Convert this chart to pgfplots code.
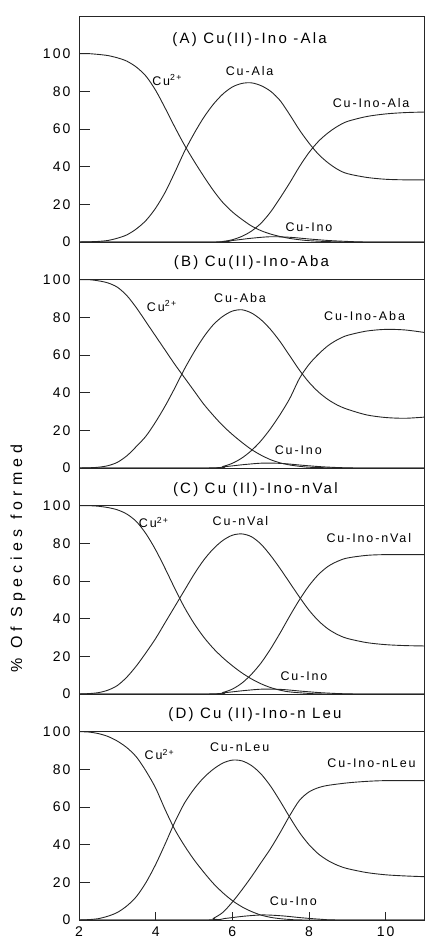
\documentclass[border=0pt]{standalone}
\usepackage{fontspec}
\setmainfont{Liberation Sans}[LetterSpace=15]
\newfontfamily\widefont{Liberation Sans}[LetterSpace=32]
\usepackage{pgfplots}
\pgfplotsset{compat=1.18}

\pgfplotsset{
  spec/.style={
    anchor=south west, scale only axis,
    width=345pt, height=226pt,
    xmin=2, xmax=11, ymin=0, ymax=120,
    ytick={0,20,40,60,80,100},
    xtick=\empty,
    tick align=inside, ytick pos=left, xtick pos=bottom,
    major tick length=11pt,
    tick style={black!85, line width=0.8pt},
    axis line style={black!85, line width=0.9pt},
    every axis plot post/.append style={black!85, line width=0.9pt, smooth, mark=none},
    tick label style={font=\fontsize{14}{14}\selectfont},
    yticklabel style={xshift=-5pt},
    /pgf/number format/assume math mode=true,
  },
  sep/.style={
    extra y ticks={100}, extra y tick labels={},
    extra y tick style={grid=major, major grid style={black!85, line width=0.9pt}},
  },
}
\newcommand{\ttl}{\fontsize{15}{15}\selectfont}
\newcommand{\lbl}{\fontsize{12.5}{12.5}\selectfont}

\begin{document}
\begin{tikzpicture}
\path[use as bounding box] (0,0) rectangle (426pt,942pt);

% (A) Cu(II)-Ino-Ala
\begin{axis}[spec, at={(79pt,700pt)}]
\addplot coordinates {(2,100) (2.25,100) (2.5,99.6) (2.75,99) (3,97.8) (3.25,96) (3.5,92.8) (3.75,88) (4,80.5) (4.25,71) (4.5,61) (4.75,51.5) (5,43) (5.25,35) (5.5,27.5) (5.75,21) (6,16) (6.25,12) (6.5,8.5) (6.75,6) (7,4.2) (7.25,2.9) (7.5,1.9) (7.75,1.2) (8,0.7) (8.5,0.2) (9,0) (11,0)};
\addplot coordinates {(2,0) (2.25,0.1) (2.5,0.3) (2.75,0.8) (3,2) (3.25,3.8) (3.5,7) (3.75,11.5) (4,18) (4.25,26.5) (4.5,37) (4.75,48) (5,57.5) (5.25,66) (5.5,73) (5.75,78.5) (6,82.3) (6.25,84.2) (6.5,84.5) (6.75,83) (7,80) (7.25,75) (7.5,67.5) (7.75,59.5) (8,52.5) (8.25,46.5) (8.5,42) (8.75,38.5) (9,36.3) (9.5,34.3) (10,33.3) (10.5,33) (11,33)};
\addplot coordinates {(2,0) (5.5,0) (5.75,0.3) (6,1.2) (6.25,3) (6.5,5.8) (6.75,10) (7,16) (7.25,23.5) (7.5,31.5) (7.75,40) (8,47.5) (8.25,53.5) (8.5,58) (8.75,61.5) (9,64) (9.5,66.6) (10,68) (10.5,68.7) (11,69)};
\addplot coordinates {(2,0) (5.5,0) (6,0.8) (6.5,2) (7,2.8) (7.5,2.5) (8,1.6) (8.5,0.8) (9,0.3) (9.5,0) (11,0)};
\node[font=\ttl] at (axis cs:6.45,107.5) {(A) Cu(II)-Ino -Ala};
\node[font=\lbl] at (axis cs:4.3,86) {Cu\textsuperscript{2+}};
\node[font=\lbl] at (axis cs:6.45,91) {Cu-Ala};
\node[font=\lbl] at (axis cs:9.62,73.6) {Cu-Ino-Ala};
\node[font=\lbl] at (axis cs:8.0,8) {Cu-Ino};
\end{axis}

% (B) Cu(II)-Ino-Aba
\begin{axis}[spec, sep, at={(79pt,474pt)}]
\addplot coordinates {(2,100) (2.25,100) (2.5,99.4) (2.75,98.3) (3,96) (3.25,91.5) (3.5,85) (3.75,77.5) (4,70) (4.25,62.5) (4.5,55) (4.75,48) (5,41) (5.25,34) (5.5,28) (5.75,22.5) (6,17.8) (6.25,13.6) (6.5,9.8) (6.75,6.8) (7,4.4) (7.25,2.7) (7.5,1.6) (7.75,0.9) (8,0.4) (8.5,0.1) (9,0) (11,0)};
\addplot coordinates {(2,0) (2.25,0.1) (2.5,0.4) (2.75,1.2) (3,3) (3.25,6.5) (3.5,11.5) (3.75,17) (4,24.5) (4.25,33) (4.5,42.5) (4.75,52.5) (5,61.5) (5.25,69.5) (5.5,76) (5.75,80.5) (6,83.3) (6.25,84) (6.5,82.3) (6.75,78.7) (7,73.5) (7.25,67) (7.5,59.5) (7.75,52) (8,45.5) (8.25,40.3) (8.5,36.3) (8.75,33.3) (9,31.2) (9.5,28.2) (10,26.8) (10.5,26.4) (11,27)};
\addplot coordinates {(2,0) (5.5,0) (5.75,0.8) (6,2.5) (6.25,5.3) (6.5,9.3) (6.75,14.5) (7,21) (7.25,28.5) (7.5,37) (7.75,47.5) (8,55) (8.25,60.5) (8.5,65) (8.75,68.2) (9,70.4) (9.5,72.7) (10,73.6) (10.5,73.3) (11,72)};
\addplot coordinates {(2,0) (5.3,0) (5.8,0.7) (6.3,1.8) (6.8,2.6) (7.3,2.4) (7.8,1.5) (8.3,0.7) (8.8,0.2) (9.3,0) (11,0)};
\node[font=\ttl] at (axis cs:6.5,109) {(B) Cu(II)-Ino-Aba};
\node[font=\lbl] at (axis cs:4.16,86) {Cu\textsuperscript{2+}};
\node[font=\lbl] at (axis cs:6.2,90) {Cu-Aba};
\node[font=\lbl] at (axis cs:9.45,80.8) {Cu-Ino-Aba};
\node[font=\lbl] at (axis cs:7.72,9.5) {Cu-Ino};
\end{axis}

% (C) Cu(II)-Ino-nVal
\begin{axis}[spec, sep, at={(79pt,248pt)},
  ylabel={\% Of Species formed},
  every axis y label/.style={at={(axis description cs:0,0.6)}, xshift=-61pt, rotate=90, anchor=center, font=\widefont\fontsize{16}{16}\selectfont}]
\addplot coordinates {(2,100) (2.25,100) (2.5,99.7) (2.75,99) (3,97.8) (3.25,95.5) (3.5,91.5) (3.75,85) (4,76.5) (4.25,66.5) (4.5,56) (4.75,46) (5,37.5) (5.25,30.3) (5.5,24.3) (5.75,19.3) (6,15) (6.25,11.2) (6.5,8) (6.75,5.4) (7,3.4) (7.25,2) (7.5,1.1) (8,0.3) (8.5,0) (11,0)};
\addplot coordinates {(2,0) (2.25,0.2) (2.5,0.7) (2.75,2) (3,4.5) (3.25,9) (3.5,15) (3.75,22) (4,29.5) (4.25,38) (4.5,46.5) (4.75,55) (5,63.5) (5.25,71) (5.5,77) (5.75,81.5) (6,84.3) (6.25,85) (6.5,83.5) (6.75,79.5) (7,73.5) (7.25,66.5) (7.5,59) (7.75,51.5) (8,44.5) (8.25,38.8) (8.5,34.5) (8.75,31.5) (9,29.5) (9.5,27.3) (10,26.2) (10.5,25.7) (11,25.5)};
\addplot coordinates {(2,0) (5.5,0) (5.75,0.8) (6,2.6) (6.25,5.8) (6.5,10.5) (6.75,16.5) (7,24) (7.25,32.5) (7.5,41.5) (7.75,50) (8,57.5) (8.25,63.5) (8.5,67.8) (8.75,70.5) (9,72.2) (9.5,73.6) (10,74) (11,74)};
\addplot coordinates {(2,0) (5.3,0) (5.8,0.7) (6.3,1.8) (6.8,2.6) (7.3,2.4) (7.8,1.5) (8.3,0.7) (8.8,0.2) (9.3,0) (11,0)};
\node[font=\ttl] at (axis cs:6.6,108.6) {(C) Cu (II)-Ino-nVal};
\node[font=\lbl] at (axis cs:3.95,91) {Cu\textsuperscript{2+}};
\node[font=\lbl] at (axis cs:6.21,92) {Cu-nVal};
\node[font=\lbl] at (axis cs:9.56,82.6) {Cu-Ino-nVal};
\node[font=\lbl] at (axis cs:7.87,9.7) {Cu-Ino};
\end{axis}

% (D) Cu(II)-Ino-nLeu
\begin{axis}[spec, sep, at={(79pt,22pt)},
  xtick={2,4,6,8,10},
  xtick style={/pgfplots/major tick length=8pt},
  xticklabel style={yshift=-3pt}]
\addplot coordinates {(2,100) (2.25,99.8) (2.5,99) (2.75,97.5) (3,95) (3.25,91.5) (3.5,86.5) (3.75,79) (4,70) (4.25,58.5) (4.5,48) (4.75,39.5) (5,32) (5.25,25.5) (5.5,19.5) (5.75,14.5) (6,10.3) (6.25,7) (6.5,4.5) (6.75,2.6) (7,1.4) (7.25,0.7) (7.5,0.3) (8,0) (11,0)};
\addplot coordinates {(2,0) (2.25,0.2) (2.5,0.7) (2.75,2) (3,4) (3.25,7.5) (3.5,12.5) (3.75,20) (4,29.5) (4.25,40.5) (4.5,52) (4.75,62) (5,69.5) (5.25,75.5) (5.5,80) (5.75,83.3) (6,84.9) (6.25,84.5) (6.5,82) (6.75,77.5) (7,71) (7.25,63) (7.5,54.5) (7.75,46.5) (8,40) (8.25,35) (8.5,31.5) (8.75,29) (9,27.3) (9.5,25.2) (10,24) (10.5,23.4) (11,23)};
\addplot coordinates {(2,0) (5.4,0) (5.5,0.8) (5.75,4) (6,9.5) (6.25,16) (6.5,23) (6.75,30.5) (7,38) (7.25,46.5) (7.5,55.5) (7.75,63.5) (8,68) (8.25,70.3) (8.5,71.5) (9,72.8) (9.5,73.6) (10,74) (11,74)};
\addplot coordinates {(2,0) (5.3,0) (5.8,0.8) (6.3,2) (6.8,2.7) (7.3,2.2) (7.8,1.2) (8.3,0.4) (8.8,0) (11,0)};
\node[font=\ttl] at (axis cs:6.59,109) {(D) Cu (II)-Ino-n Leu};
\node[font=\lbl] at (axis cs:4.1,88) {Cu\textsuperscript{2+}};
\node[font=\lbl] at (axis cs:6.19,92) {Cu-nLeu};
\node[font=\lbl] at (axis cs:9.63,83.5) {Cu-Ino-nLeu};
\node[font=\lbl] at (axis cs:7.59,9.8) {Cu-Ino};
\end{axis}
\end{tikzpicture}
\end{document}
